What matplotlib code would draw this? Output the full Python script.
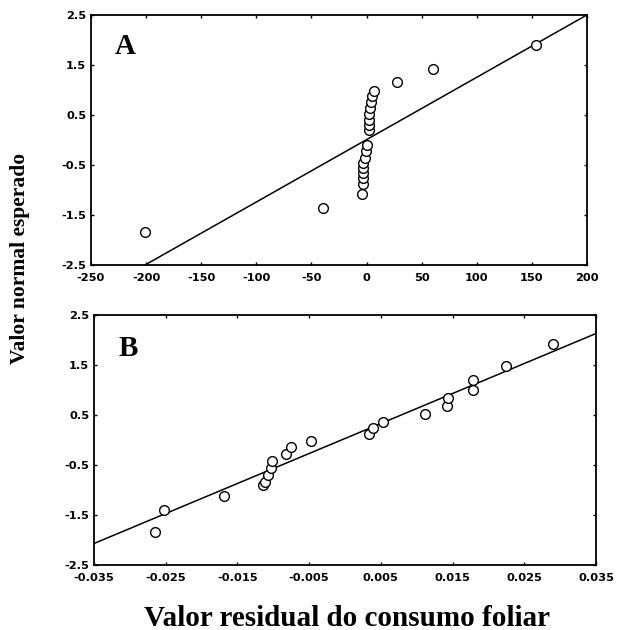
import matplotlib
matplotlib.use("Agg")
import matplotlib.pyplot as plt
import numpy as np

# Panel A data: residuals vs expected normal values
a_resid = [-201, -39.3, -4.4, -3.5, -2.9, -2.9, -2.9, -2.9, -1.9, -0.4, 0.2,
           2.3, 2.3, 2.3, 2.6, 3.2, 3.8, 4.7, 7.1, 27.2, 60.5, 153.5]
a_expect = [-1.84, -1.36, -1.08, -0.88, -0.77, -0.67, -0.57, -0.47, -0.37, -0.23, -0.10,
            0.19, 0.29, 0.40, 0.52, 0.63, 0.75, 0.87, 0.97, 1.16, 1.42, 1.90]
a_line_x = [-201, 200]
a_line_y = [-2.5, 2.5]

# Panel B data
b_resid = [-0.0265, -0.0253, -0.0169, -0.0115, -0.0112, -0.0107, -0.0103, -0.0102,
           -0.0082, -0.0076, -0.0048, 0.0033, 0.0039, 0.0053, 0.0112, 0.0142,
           0.0144, 0.0178, 0.0178, 0.0225, 0.0290]
b_expect = [-1.85, -1.40, -1.13, -0.90, -0.85, -0.71, -0.57, -0.42,
            -0.29, -0.14, -0.03, 0.11, 0.23, 0.35, 0.51, 0.67,
            0.83, 0.99, 1.20, 1.48, 1.92]
b_line_x = [-0.035, 0.035]
b_line_y = [-2.07, 2.13]

a_xticks = [-250, -200, -150, -100, -50, 0, 50, 100, 150, 200]
b_xticks = [-0.035, -0.025, -0.015, -0.005, 0.005, 0.015, 0.025, 0.035]
b_xticklabels = ["-0.035", "-0.025", "-0.015", "-0.005", "0.005", "0.015", "0.025", "0.035"]
yticks = [2.5, 1.5, 0.5, -0.5, -1.5, -2.5]

fig = plt.figure(figsize=(6.17, 6.30), dpi=100)
axA = fig.add_axes([0.1475, 0.5794, 0.804, 0.397])
axB = fig.add_axes([0.1524, 0.1032, 0.8136, 0.3968])

tickfont = dict(family="DejaVu Sans", weight="bold", size=8.2)

def style(ax):
    for s in ax.spines.values():
        s.set_linewidth(1.3)
    ax.tick_params(direction="in", length=2.5, width=1, top=True, right=True)
    ax.tick_params(axis="x", pad=5.5)
    ax.tick_params(axis="y", pad=3.5)
    ax.set_yticks(yticks)
    ax.set_yticklabels([str(v) for v in yticks], **tickfont)
    ax.set_ylim(-2.5, 2.5)

axA.plot(a_line_x, a_line_y, color="black", lw=1.1)
axA.plot(a_resid, a_expect, "o", ms=7, mfc="white", mec="black", mew=1.0, ls="none")
axA.set_xlim(-250, 200)
axA.set_xticks(a_xticks)
axA.set_xticklabels([str(v) for v in a_xticks], **tickfont)
style(axA)
axA.text(0.07, 0.873, "A", transform=axA.transAxes, ha="center", va="center",
         family="Liberation Serif", weight="bold", fontsize=21)

axB.plot(b_line_x, b_line_y, color="black", lw=1.1)
axB.plot(b_resid, b_expect, "o", ms=7, mfc="white", mec="black", mew=1.0, ls="none")
axB.set_xlim(-0.035, 0.035)
axB.set_xticks(b_xticks)
axB.set_xticklabels(b_xticklabels, **tickfont)
style(axB)
axB.text(0.068, 0.867, "B", transform=axB.transAxes, ha="center", va="center",
         family="Liberation Serif", weight="bold", fontsize=21)

fig.text(0.033, 0.589, "Valor normal esperado", rotation=90, ha="center", va="center",
         family="Liberation Serif", weight="bold", fontsize=15.5)
fig.text(0.562, 0.019, "Valor residual do consumo foliar", ha="center", va="center",
         family="Liberation Serif", weight="bold", fontsize=21)

fig.savefig("out.png", dpi=100)
